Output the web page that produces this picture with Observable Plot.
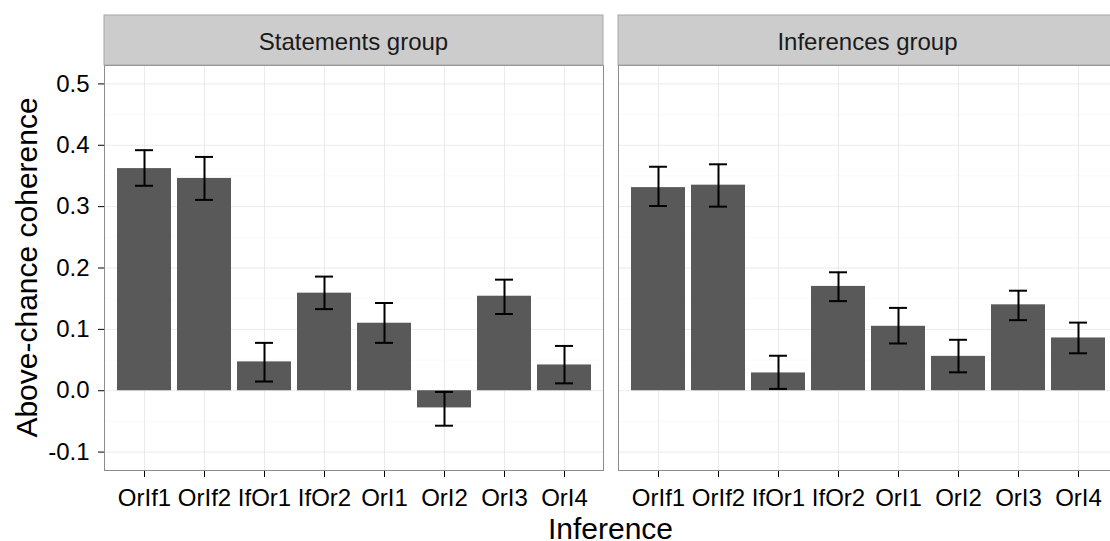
<!DOCTYPE html>
<html>
<head>
<meta charset="utf-8">
<script src="https://cdn.jsdelivr.net/npm/d3@7"></script>
<script src="https://cdn.jsdelivr.net/npm/@observablehq/plot@0.6"></script>
<style>
html, body { margin: 0; padding: 0; background: #fff; overflow: hidden; }
#chart { width: 1110px; height: 541px; overflow: hidden; position: relative; }
</style>
</head>
<body>
<div id="chart"></div>
<script>
const groups = ["Statements group", "Inferences group"];
const categories = ["OrIf1", "OrIf2", "IfOr1", "IfOr2", "OrI1", "OrI2", "OrI3", "OrI4"];
const statementsMean = [0.362, 0.346, 0.047, 0.159, 0.110, -0.028, 0.154, 0.042];
const statementsLow  = [0.334, 0.311, 0.015, 0.133, 0.078, -0.057, 0.125, 0.012];
const statementsHigh = [0.392, 0.381, 0.078, 0.186, 0.143, -0.002, 0.181, 0.073];
const inferencesMean = [0.331, 0.335, 0.029, 0.170, 0.105, 0.056, 0.140, 0.086];
const inferencesLow  = [0.301, 0.300, 0.003, 0.146, 0.077, 0.030, 0.115, 0.061];
const inferencesHigh = [0.365, 0.369, 0.057, 0.193, 0.135, 0.083, 0.163, 0.111];
const yTicks = [-0.1, 0, 0.1, 0.2, 0.3, 0.4, 0.5];
const yMinor = [-0.05, 0.05, 0.15, 0.25, 0.35, 0.45];
const yLimits = [-0.13, 0.53];
const xTitle = "Inference";
const yTitle = "Above-chance coherence";

const rows = [];
categories.forEach((c, i) => {
  rows.push({group: groups[0], cat: c, mean: statementsMean[i], lo: statementsLow[i], hi: statementsHigh[i]});
  rows.push({group: groups[1], cat: c, mean: inferencesMean[i], lo: inferencesLow[i], hi: inferencesHigh[i]});
});

const W = 1117, H = 541, ML = 104, MR = 0, MT = 65, MB = 71;
const fxPad = 0.0292;

const chart = Plot.plot({
  width: W, height: H,
  marginLeft: ML, marginRight: MR, marginTop: MT, marginBottom: MB,
  style: {fontFamily: "'Liberation Sans', Arial, sans-serif", fontSize: "24px", color: "#000", background: "transparent", maxWidth: "none", overflow: "visible"},
  fx: {domain: groups, paddingInner: fxPad, paddingOuter: 0, axis: null, label: null},
  x: {domain: categories, paddingInner: 0.1, paddingOuter: 0.15, tickSize: 7, tickPadding: 11, label: null},
  y: {domain: yLimits, ticks: yTicks, tickFormat: d => d.toFixed(1), tickSize: 6, tickPadding: 9, label: null},
  marks: [
    Plot.ruleY(yMinor, {stroke: "#FAFAFA", strokeWidth: 1}),
    Plot.ruleY(yTicks, {stroke: "#EBEBEB", strokeWidth: 1}),
    Plot.ruleX(categories, {x: d => d, stroke: "#EBEBEB", strokeWidth: 1}),
    Plot.barY(rows, {fx: "group", x: "cat", y: "mean", fill: "#595959"}),
    Plot.ruleX(rows, {fx: "group", x: "cat", y1: "lo", y2: "hi", stroke: "#000", strokeWidth: 2}),
    Plot.tickY(rows, {fx: "group", x: "cat", y: "lo", stroke: "#000", strokeWidth: 2, insetLeft: 18, insetRight: 18}),
    Plot.tickY(rows, {fx: "group", x: "cat", y: "hi", stroke: "#000", strokeWidth: 2, insetLeft: 18, insetRight: 18}),
    Plot.frame({stroke: "#8C8C8C", strokeWidth: 1})
  ]
});

document.getElementById("chart").appendChild(chart);

const svg = d3.select(chart);
let fxs = null;
try { fxs = chart.scale("fx"); } catch (e) { fxs = null; }
const fallbackStep = (W - ML - MR) / (groups.length - fxPad);
const stripTop = 15;
const g = svg.append("g");
groups.forEach((name, i) => {
  const x0 = fxs && fxs.apply ? fxs.apply(name) : ML + i * fallbackStep;
  const bw = fxs && fxs.bandwidth ? fxs.bandwidth : fallbackStep * (1 - fxPad);
  g.append("rect")
    .attr("x", x0).attr("y", stripTop)
    .attr("width", bw).attr("height", MT - stripTop)
    .attr("fill", "#CCCCCC").attr("stroke", "#A6A6A6").attr("stroke-width", 1);
  g.append("text")
    .attr("x", x0 + bw / 2).attr("y", stripTop + 35)
    .attr("text-anchor", "middle")
    .attr("fill", "#1A1A1A")
    .style("font-size", "24px")
    .text(name);
});
const plotLeft = fxs && fxs.apply ? fxs.apply(groups[0]) : ML;
const plotRight = fxs && fxs.apply ? fxs.apply(groups[groups.length - 1]) + fxs.bandwidth : W - MR;
svg.append("text")
  .attr("x", (plotLeft + plotRight) / 2).attr("y", 539)
  .attr("text-anchor", "middle").attr("fill", "#000")
  .style("font-size", "30px")
  .text(xTitle);
svg.append("text")
  .attr("transform", `translate(37,${(MT + H - MB) / 2}) rotate(-90)`)
  .attr("text-anchor", "middle").attr("fill", "#000")
  .style("font-size", "30px")
  .text(yTitle);
</script>
</body>
</html>
